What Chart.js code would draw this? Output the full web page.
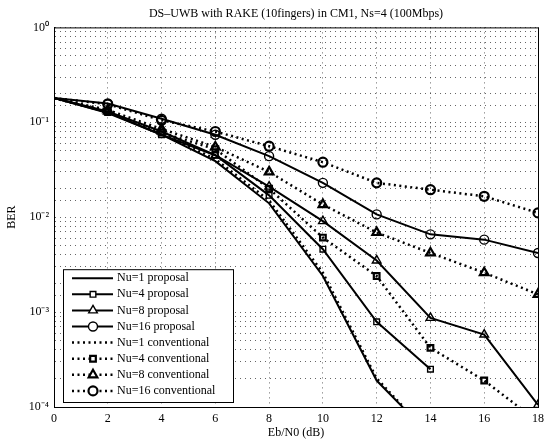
<!DOCTYPE html>
<html>
<head>
<meta charset="utf-8">
<script src="https://cdn.jsdelivr.net/npm/chart.js@4.4.0/dist/chart.umd.min.js"></script>
<style>
  html, body { margin: 0; padding: 0; background: #fff; }
  #wrap { width: 544px; height: 443px; }
</style>
</head>
<body>
<div id="wrap"><canvas id="ber"></canvas></div>
<script>
// Eb/N0 points (dB)
const ebn0 = [0, 2, 4, 6, 8, 10, 12, 14, 16, 18];

// BER (null = below 1e-4 / not plotted)
const prop1  = [0.18, 0.125, 0.074, 0.039, 0.014, 0.0024, 0.00019, 0.00005, null, null];
const prop4  = [0.18, 0.127, 0.074, 0.045, 0.017, 0.0046, 0.00079, 0.00025, null, null];
const prop8  = [0.18, 0.13, 0.08, 0.045, 0.021, 0.0091, 0.0035, 0.00087, 0.00058, 0.000105];
const prop16 = [0.18, 0.158, 0.109, 0.074, 0.044, 0.023, 0.0107, 0.0066, 0.0058, 0.0042];
const conv1  = [0.18, 0.128, 0.077, 0.041, 0.015, 0.0026, 0.0002, 0.00005, null, null];
const conv4  = [0.18, 0.13, 0.078, 0.052, 0.020, 0.0061, 0.0024, 0.00042, 0.00019, 0.00007];
const conv8  = [0.18, 0.135, 0.085, 0.055, 0.030, 0.0136, 0.0069, 0.0042, 0.0026, 0.00154];
const conv16 = [0.18, 0.155, 0.105, 0.08, 0.056, 0.038, 0.023, 0.0195, 0.0166, 0.0111];

const seriesNames = ['Nu=1 proposal', 'Nu=4 proposal', 'Nu=8 proposal', 'Nu=16 proposal',
  'Nu=1 conventional', 'Nu=4 conventional', 'Nu=8 conventional', 'Nu=16 conventional'];
const seriesData = [prop1, prop4, prop8, prop16, conv1, conv4, conv8, conv16];

const markers = ['circle', 'rect', 'triangle', 'circle'];
const markerSize = [0, 4, 5, 4.5];

const pts = arr => ebn0.map((x, i) => ({x: x, y: arr[i]}));

const datasets = seriesData.map((arr, i) => {
  const conv = i >= 4;
  const k = i % 4;
  return {
    label: seriesNames[i],
    data: pts(arr),
    borderColor: '#000',
    backgroundColor: 'rgba(0,0,0,0)',
    borderWidth: conv ? 2.5 : 2,
    borderDash: conv ? [2, 3.5] : [],
    pointStyle: markers[k],
    markerR: markerSize[k],
    // the common start point at 0 dB carries no marker
    pointRadius: ctx => ctx.dataIndex === 0 ? 0 : markerSize[k],
    pointBorderWidth: conv ? 2.2 : 1.4,
    pointBorderColor: '#000',
    pointBackgroundColor: 'rgba(0,0,0,0)',
    tension: 0,
    spanGaps: false
  };
});

const sup = {'0':'⁰','1':'¹','2':'²','3':'³','4':'⁴','-':'⁻'};

const legendBox = {
  id: 'legendBox',
  afterDraw(chart) {
    const {ctx, chartArea} = chart;
    // plot box
    ctx.save();
    ctx.strokeStyle = '#000';
    ctx.lineWidth = 1;
    ctx.strokeRect(chartArea.left + 0.5, chartArea.top + 0.5,
      chartArea.right - chartArea.left, chartArea.bottom - chartArea.top);

    const sets = chart.data.datasets;
    const x0 = chartArea.left + 9;
    const rowH = 16.1;
    const h = rowH * sets.length + 4;
    const y0 = chartArea.bottom - 5 - h;
    const w = 170;
    ctx.fillStyle = '#fff';
    ctx.fillRect(x0, y0, w, h);
    ctx.strokeRect(x0 + 0.5, y0 + 0.5, w, h);

    ctx.font = '12px "Liberation Serif", serif';
    ctx.textBaseline = 'middle';
    sets.forEach((ds, i) => {
      const cy = y0 + 9 + rowH * i;
      ctx.strokeStyle = '#000';
      ctx.lineWidth = ds.borderWidth;
      ctx.setLineDash(ds.borderDash);
      ctx.beginPath();
      ctx.moveTo(x0 + 9, cy);
      ctx.lineTo(x0 + 50, cy);
      ctx.stroke();
      ctx.setLineDash([]);
      if (ds.markerR > 0) {
        ctx.fillStyle = '#fff';
        ctx.lineWidth = ds.pointBorderWidth;
        Chart.helpers.drawPoint(ctx, {pointStyle: ds.pointStyle, radius: ds.markerR,
          borderWidth: ds.pointBorderWidth, rotation: 0}, x0 + 30, cy);
      }
      ctx.fillStyle = '#000';
      ctx.fillText(ds.label, x0 + 54, cy);
    });
    ctx.restore();
  }
};

new Chart(document.getElementById('ber'), {
  type: 'line',
  data: { datasets: datasets },
  options: {
    responsive: true,
    maintainAspectRatio: false,
    animation: false,
    devicePixelRatio: 1,
    layout: { autoPadding: false, padding: { top: 0, right: 6, bottom: 0, left: 0 } },
    plugins: {
      legend: { display: false },
      tooltip: { enabled: false },
      title: {
        display: true,
        fullSize: false,
        text: 'DS\u2013UWB with RAKE (10fingers) in CM1, Ns=4 (100Mbps)',
        color: '#000',
        font: { family: '"Liberation Serif", serif', size: 12, weight: 'normal' },
        padding: { top: 7, bottom: 6 }
      }
    },
    scales: {
      x: {
        type: 'linear',
        min: 0,
        max: 18,
        ticks: {
          stepSize: 2,
          color: '#000',
          padding: 5,
          font: { family: '"Liberation Serif", serif', size: 12 }
        },
        grid: { color: 'rgba(0,0,0,0.6)', lineWidth: 1, drawTicks: false },
        border: { display: true, color: '#000', dash: [1, 4] },
        title: {
          display: true,
          text: 'Eb/N0 (dB)',
          color: '#000',
          font: { family: '"Liberation Serif", serif', size: 12 },
          padding: { top: 0, bottom: 3 }
        },
        afterFit(scale) {
          scale.height = 36;
          scale.paddingLeft = 0;
          scale.paddingRight = 0;
        }
      },
      y: {
        type: 'logarithmic',
        min: 1e-4,
        max: 1,
        ticks: {
          autoSkip: false,
          color: '#000',
          padding: 5,
          font: { family: '"Liberation Serif", serif', size: 12 },
          callback(value) {
            const e = Math.log10(value);
            if (Math.abs(e - Math.round(e)) > 1e-9) return '';
            return '10' + String(Math.round(e)).split('').map(c => sup[c]).join('');
          }
        },
        grid: { color: 'rgba(0,0,0,0.6)', lineWidth: 1, drawTicks: false },
        border: { display: true, color: '#000', dash: [1, 4] },
        title: {
          display: true,
          text: 'BER',
          color: '#000',
          font: { family: '"Liberation Serif", serif', size: 12 },
          padding: { top: 5, bottom: 0 }
        },
        afterFit(scale) { scale.width = 54; }
      }
    }
  },
  plugins: [legendBox]
});
</script>
</body>
</html>
